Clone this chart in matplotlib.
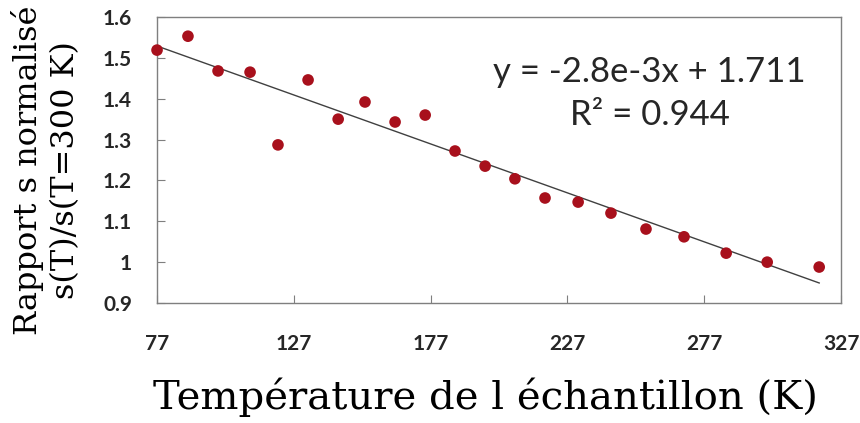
import matplotlib
matplotlib.use("Agg")
import matplotlib.pyplot as plt

temperature = [77, 88.3, 99.3, 111, 121.2, 132.2, 143.2, 153, 164, 175, 185.9,
               196.9, 207.8, 218.8, 230.9, 242.9, 255.7, 269.6, 285, 300, 319]
ratio = [1.519, 1.553, 1.468, 1.465, 1.287, 1.446, 1.350, 1.392, 1.343, 1.360, 1.272,
         1.235, 1.204, 1.157, 1.147, 1.120, 1.081, 1.062, 1.022, 1.000, 0.988]
fit_x = [77, 319]
fit_y = [1.529, 0.949]
x_ticks = [77, 127, 177, 227, 277, 327]
y_ticks = [0.9, 1.0, 1.1, 1.2, 1.3, 1.4, 1.5, 1.6]
y_ticklabels = ["0.9", "1", "1.1", "1.2", "1.3", "1.4", "1.5", "1.6"]

fig = plt.figure(figsize=(8.6, 4.23), dpi=100)
ax = fig.add_axes([0.1826, 0.2837, 0.7954, 0.6761])

ax.plot(fit_x, fit_y, color="#404040", lw=1.0, zorder=2)
ax.scatter(temperature, ratio, s=70, color="#A8101C", zorder=3, edgecolors="none",
           clip_on=False)

ax.set_xlim(77, 327)
ax.set_ylim(0.9, 1.6)
ax.set_xticks(x_ticks)
ax.set_yticks(y_ticks)
ax.set_yticklabels(y_ticklabels)
for s in ax.spines.values():
    s.set_color("#7f7f7f")
    s.set_linewidth(1.0)
ax.tick_params(axis="x", direction="in", length=6, color="#7f7f7f", pad=22)
ax.tick_params(axis="y", direction="in", length=6, color="#7f7f7f", pad=18)
for lab in ax.get_xticklabels() + ax.get_yticklabels():
    lab.set_fontfamily("Lato")
    lab.set_fontweight("bold")
    lab.set_fontsize(15)
    lab.set_color("#262626")

ax.text(0.72, 0.807, "y = -2.8e-3x + 1.711", transform=ax.transAxes, ha="center",
        va="center", fontsize=25, family="Lato", color="#262626")
ax.text(0.72, 0.657, "R² = 0.944", transform=ax.transAxes, ha="center",
        va="center", fontsize=25, family="Lato", color="#262626")

fig.text(0.565, 0.061, "Température de l échantillon (K)", ha="center", va="center",
         fontsize=29, family="DejaVu Serif", color="black")
fig.text(0.032, 0.598, "Rapport s normalisé", ha="center", va="center",
         rotation=90, fontsize=23, family="DejaVu Serif", color="black")
fig.text(0.076, 0.598, "s(T)/s(T=300 K)", ha="center", va="center",
         rotation=90, fontsize=23, family="DejaVu Serif", color="black")

fig.savefig("out.png", dpi=100)
